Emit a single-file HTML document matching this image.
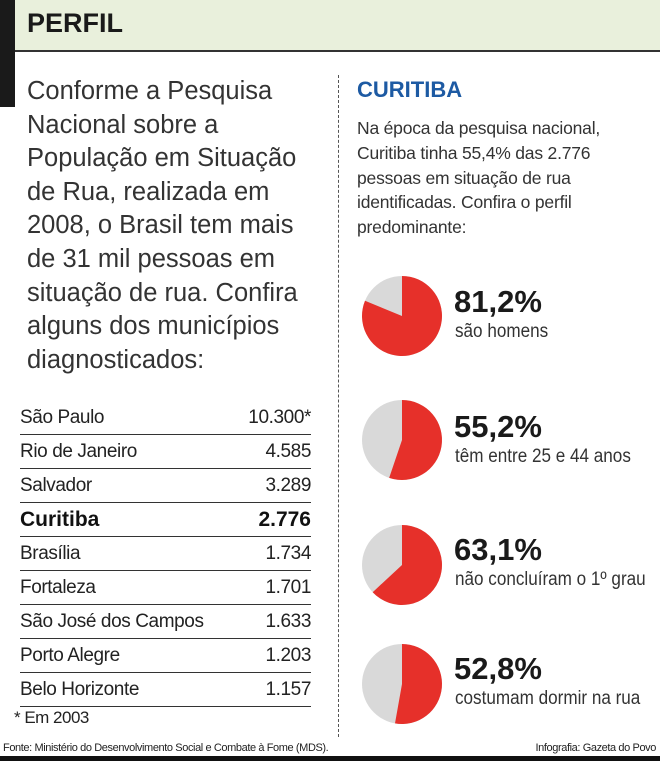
<!DOCTYPE html>
<html><head><meta charset="utf-8"><style>
*{margin:0;padding:0;box-sizing:border-box}
body{width:660px;height:761px;background:#fff;position:relative;overflow:hidden;font-family:"Liberation Sans",sans-serif;color:#222}
.hdr{position:absolute;left:0;top:0;width:660px;height:52px;background:#e9f0dc;border-bottom:2px solid #333}
.bar{position:absolute;left:0;top:0;width:15px;height:107px;background:#1a1a1a}
.t{position:absolute;white-space:nowrap}
.para{left:27px;top:75px;font-size:25.5px;line-height:33.6px;color:#333}
.row{position:absolute;left:20px;width:291px;height:34px;border-bottom:1.5px solid #333;font-size:19px;line-height:34px;letter-spacing:-0.4px}
.row span{position:absolute;right:0;top:0}
.div{position:absolute;left:338px;top:75px;height:662px;border-left:1.5px dashed #555}
.pct{font-size:31px;font-weight:bold;color:#1a1a1a}
.sub{font-size:19px;color:#333;transform:scaleX(.9);transform-origin:left}
</style></head><body>
<div class="hdr"></div><div class="bar"></div>
<div class="t" style="left:27px;top:8px;font-size:27px;font-weight:bold;color:#1a1a1a">PERFIL</div>
<div class="t para">Conforme a Pesquisa<br>Nacional sobre a<br>População em Situação<br>de Rua, realizada em<br>2008, o Brasil tem mais<br>de 31 mil pessoas em<br>situação de rua. Confira<br>alguns dos municípios<br>diagnosticados:</div>
<div>
<div class="row" style="top:401px">São Paulo<span>10.300*</span></div>
<div class="row" style="top:435px">Rio de Janeiro<span>4.585</span></div>
<div class="row" style="top:469px">Salvador<span>3.289</span></div>
<div class="row" style="top:503px;font-weight:bold;font-size:21px;color:#111;letter-spacing:0">Curitiba<span>2.776</span></div>
<div class="row" style="top:537px">Brasília<span>1.734</span></div>
<div class="row" style="top:571px">Fortaleza<span>1.701</span></div>
<div class="row" style="top:605px">São José dos Campos<span>1.633</span></div>
<div class="row" style="top:639px">Porto Alegre<span>1.203</span></div>
<div class="row" style="top:673px">Belo Horizonte<span>1.157</span></div>
<div class="t" style="left:14px;top:708px;font-size:17px;letter-spacing:-0.5px">* Em 2003</div>
<div class="t" style="left:3px;top:742px;font-size:11px;color:#222;letter-spacing:-0.4px">Fonte: Ministério do Desenvolvimento Social e Combate à Fome (MDS).</div>
<div class="t" style="right:4px;top:742px;font-size:11px;color:#222;letter-spacing:-0.4px">Infografia: Gazeta do Povo</div>
</div>
<div style="position:absolute;left:0;top:756px;width:660px;height:5px;background:#111"></div>
<div class="div"></div>
<div class="t" style="left:357px;top:77px;font-size:22px;font-weight:bold;color:#1d5aa3">CURITIBA</div>
<div class="t" style="left:357px;top:116px;font-size:17.5px;line-height:24.8px;color:#333;letter-spacing:-0.2px">Na época da pesquisa nacional,<br>Curitiba tinha 55,4% das 2.776<br>pessoas em situação de rua<br>identificadas. Confira o perfil<br>predominante:</div>
<svg style="position:absolute;left:0;top:0" width="660" height="761">
<g fill="#d9d9d9"><circle cx="402" cy="316" r="40"/><circle cx="402" cy="440" r="40"/><circle cx="402" cy="565" r="40"/><circle cx="402" cy="684" r="40"/></g>
<g fill="#e6302a" id="g2"></g>
<script>
function pie(cx,cy,r,f){var a=f*2*Math.PI;var x=cx+r*Math.sin(a),y=cy-r*Math.cos(a);return "M"+cx+","+cy+" L"+cx+","+(cy-r)+" A"+r+","+r+" 0 "+(f>0.5?1:0)+" 1 "+x+","+y+" Z";}
var g=document.getElementById('g2');
[[316,.812],[440,.552],[565,.631],[684,.528]].forEach(function(d){var p=document.createElementNS('http://www.w3.org/2000/svg','path');p.setAttribute('d',pie(402,d[0],40,d[1]));g.appendChild(p);});
</script>
</svg>
<div class="t pct" style="left:454px;top:284px">81,2%</div>
<div class="t sub" style="left:455px;top:321px">são homens</div>
<div class="t pct" style="left:454px;top:409px">55,2%</div>
<div class="t sub" style="left:455px;top:446px">têm entre 25 e 44 anos</div>
<div class="t pct" style="left:454px;top:532px">63,1%</div>
<div class="t sub" style="left:455px;top:569px">não concluíram o 1º grau</div>
<div class="t pct" style="left:454px;top:651px">52,8%</div>
<div class="t sub" style="left:455px;top:688px">costumam dormir na rua</div>
</body></html>
